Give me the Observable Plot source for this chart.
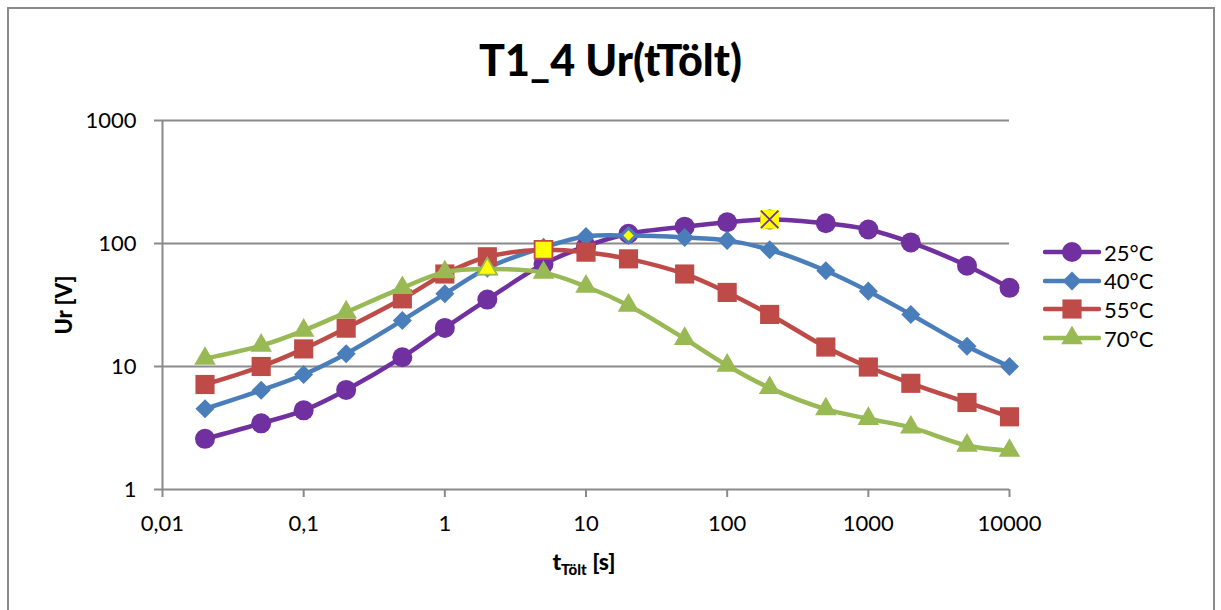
<!DOCTYPE html>
<html><head><meta charset="utf-8">
<script src="https://cdn.jsdelivr.net/npm/d3@7"></script>
<script src="https://cdn.jsdelivr.net/npm/@observablehq/plot@0.6"></script>
<style>
body{margin:0;background:#fff;font-family:Lato,"Open Sans",sans-serif;}
#wrap{position:relative;width:1221px;height:610px;overflow:hidden;background:#fff;}
#frame{position:absolute;left:7px;top:7px;width:1208px;height:640px;border:2px solid #8a8a8a;box-sizing:border-box;}
#chart{position:absolute;left:0;top:0;}
#title{position:absolute;left:0;width:1221px;top:35px;text-align:center;font-weight:900;font-size:43px;line-height:50px;color:#000;}
#ylab{position:absolute;left:63px;top:305px;transform:translate(-50%,-50%) rotate(-90deg);font-weight:900;font-size:22px;white-space:nowrap;}
#xlab{position:absolute;left:584px;top:547px;transform:translateX(-50%);font-weight:900;font-size:23px;white-space:nowrap;}
#xlab sub{font-size:15px;vertical-align:-5px;}
#legend{position:absolute;left:1043px;top:238px;}
.lrow{display:flex;align-items:center;height:28.6px;font-size:22px;}
.lrow svg{margin-right:3px;}
</style></head>
<body>
<div id="wrap">
  <div id="chart"></div>
  <div id="frame"></div>
  <div id="title">T1_4 Ur(tTölt)</div>
  <div id="ylab">Ur [V]</div>
  <div id="xlab">t<sub>Tölt</sub> [s]</div>
  <div id="legend"></div>
</div>
<script>
// ---- data ----
const tTolt = [0.02, 0.05, 0.1, 0.2, 0.5, 1, 2, 5, 10, 20, 50, 100, 200, 500, 1000, 2000, 5000, 10000];
const ur25 = [2.58, 3.45, 4.4, 6.45, 11.9, 20.6, 35, 68, 95, 120, 137, 149, 157, 146, 130, 102, 66, 43.6];
const ur40 = [4.53, 6.4, 8.6, 12.7, 23.7, 39, 63, 93, 114, 116, 112, 106, 89, 60, 41, 26.5, 14.6, 10];
const ur55 = [7.14, 10, 13.9, 20.5, 35.5, 56.5, 78, 89, 85, 75, 56.5, 40, 26.5, 14.4, 9.9, 7.3, 5.1, 3.9];
const ur70 = [11.6, 14.8, 19.6, 27.6, 43.6, 58.5, 62, 58, 44.7, 31.3, 16.8, 10.2, 6.7, 4.5, 3.76, 3.2, 2.28, 2.07];
const seriesNames = ["25°C", "40°C", "55°C", "70°C"];
const seriesColors = ["#7030A0", "#4A7EBB", "#BE4B48", "#98B954"];
const seriesSymbols = ["circle", "diamond", "square", "triangle"];
const peakT = [200, 20, 5, 2]; // highlighted (maximum) points
const xTicks = [0.01, 0.1, 1, 10, 100, 1000, 10000];
const xTickLabels = ["0,01", "0,1", "1", "10", "100", "1000", "10000"];
const yTicks = [1, 10, 100, 1000];
const yTickLabels = ["1", "10", "100", "1000"];
const gridY = [10, 100, 1000];

const seriesValues = [ur25, ur40, ur55, ur70];
const rows = [];
seriesValues.forEach((vals, i) => vals.forEach((v, j) => rows.push({series: seriesNames[i], t: tTolt[j], u: v})));

const symbolStyle = {
  circle:   {symbol: "circle", r: 10, rotate: 0},
  diamond:  {symbol: "square", r: 7.6, rotate: 45},
  square:   {symbol: "square", r: 10.8, rotate: 0},
  triangle: {symbol: "triangle", r: 8, rotate: 0}
};

const marks = [
  Plot.ruleY(gridY, {stroke: "#8a8a8a", strokeWidth: 2}),
  Plot.ruleY([1], {stroke: "#8a8a8a", strokeWidth: 2}),
  Plot.ruleX([0.01], {stroke: "#8a8a8a", strokeWidth: 2}),
  Plot.axisX({ticks: xTicks, tickFormat: (d) => xTickLabels[xTicks.indexOf(d)], tickSize: 8, tickPadding: 18, stroke: "#8a8a8a", strokeWidth: 2, fill: "#000", fontSize: 22, label: null}),
  Plot.axisY({ticks: yTicks, tickFormat: (d) => yTickLabels[yTicks.indexOf(d)], tickSize: 8, tickPadding: 18, stroke: "#8a8a8a", strokeWidth: 2, fill: "#000", fontSize: 22, label: null})
];

seriesNames.forEach((name, i) => {
  const data = rows.filter(d => d.series === name);
  const st = symbolStyle[seriesSymbols[i]];
  marks.push(Plot.line(data, {x: "t", y: "u", stroke: seriesColors[i], strokeWidth: 4.5, curve: "catmull-rom"}));
  marks.push(Plot.dot(data, {x: "t", y: "u", symbol: st.symbol, r: st.r, rotate: st.rotate, fill: seriesColors[i], stroke: "none"}));
  const peak = data.filter(d => d.t === peakT[i]);
  if (i === 0) {
    marks.push(Plot.dot(peak, {x: "t", y: "u", symbol: "square", r: 10.5, fill: "#FFFF00", stroke: "none"}));
    marks.push(Plot.dot(peak, {x: "t", y: "u", symbol: "times", r: 8, stroke: seriesColors[i], strokeWidth: 1.8}));
  } else if (i === 1) {
    marks.push(Plot.dot(peak, {x: "t", y: "u", symbol: "square", r: 5, rotate: 45, fill: "#FFFF00", stroke: seriesColors[i], strokeWidth: 1.5}));
  } else {
    marks.push(Plot.dot(peak, {x: "t", y: "u", symbol: st.symbol, r: st.r - 0.8, rotate: st.rotate, fill: "#FFFF00", stroke: seriesColors[i], strokeWidth: 1.8}));
  }
});

const chart = Plot.plot({
  width: 1221, height: 610,
  marginTop: 120, marginBottom: 121, marginLeft: 162, marginRight: 212,
  style: {fontFamily: "Lato, 'Open Sans', sans-serif", fontSize: "22px", background: "transparent", overflow: "visible"},
  x: {type: "log", domain: [0.01, 10000], axis: null},
  y: {type: "log", domain: [1, 1000], axis: null},
  marks
});
document.getElementById("chart").appendChild(chart);

// legend
const leg = document.getElementById("legend");
seriesNames.forEach((name, i) => {
  const row = document.createElement("div");
  row.className = "lrow";
  const st = symbolStyle[seriesSymbols[i]];
  const sym = {circle: d3.symbolCircle, square: d3.symbolSquare, triangle: d3.symbolTriangle}[st.symbol];
  const path = d3.symbol(sym, Math.PI * st.r * st.r)();
  row.innerHTML = `<svg width="58" height="24"><line x1="2" x2="56" y1="12" y2="12" stroke="${seriesColors[i]}" stroke-width="4.5" stroke-linecap="round"/><path d="${path}" transform="translate(29,12) rotate(${st.rotate})" fill="${seriesColors[i]}"/></svg><span>${name}</span>`;
  leg.appendChild(row);
});
</script>
</body></html>
